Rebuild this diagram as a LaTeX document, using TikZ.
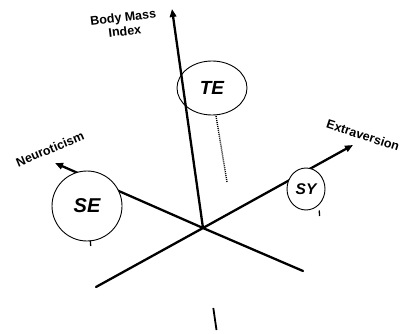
\documentclass[tikz,border=0pt]{standalone}
\usepackage{fontspec}
\setmainfont{Liberation Sans}
\usetikzlibrary{arrows.meta,shapes.geometric}
\begin{document}
\begin{tikzpicture}[x=1pt,y=-1pt,
  axisline/.style={line width=2.3pt,line cap=round},
  axisarrow/.style={axisline,-{Triangle[length=8pt,width=6.5pt]}},
  bubble/.style={draw,line width=0.9pt,ellipse,inner sep=0pt},
  axislabel/.style={font=\fontsize{12.5}{14}\selectfont\bfseries,inner sep=0pt,align=center},
  bubblelabel/.style={font=\bfseries\itshape},
  tickmark/.style={line width=1.3pt}]
\useasboundingbox (0,0) rectangle (407,334);
% axes
\coordinate (O) at (203,228);
\coordinate (bmi) at (172,9);
\coordinate (neu) at (55,163);
\coordinate (ext) at (353,145);
\coordinate (ll) at (96,287);
\coordinate (lr) at (303,271);
\draw[axisarrow] (O) -- (bmi);
\draw[axisarrow] (O) -- (neu);
\draw[axisarrow] (O) -- (ext);
\draw[axisline] (O) -- (ll);
\draw[axisline] (O) -- (lr);
% axis labels
\node[axislabel,rotate=7] (lbmi) at (124,24) {Body Mass\\Index};
\node[axislabel,rotate=23] (lneu) at (50,149) {Neuroticism};
\node[axislabel,rotate=-18] (lext) at (363,135) {Extraversion};
% bubbles
\node[bubble,minimum width=70pt,minimum height=54pt] (TE) at (212,88) {};
\node[bubblelabel,font=\fontsize{19}{20}\selectfont\bfseries\itshape] at (TE) {TE};
\node[bubble,fill=white,minimum width=70pt,minimum height=70pt] (SE) at (87,206) {};
\node[bubblelabel,font=\fontsize{20}{21}\selectfont\bfseries\itshape] at (SE) {SE};
\node[bubble,fill=white,minimum width=38pt,minimum height=42pt] (SY) at (306,189) {};
\node[bubblelabel,font=\fontsize{15.5}{17}\selectfont\bfseries\itshape] at (SY) {SY};
% dotted line
\coordinate (d1) at (216,116);
\coordinate (d2) at (227,182);
\draw[line width=1.4pt,dash pattern=on 1pt off 1pt] (d1) -- (d2);
% ticks
\coordinate (t1a) at (90.3,240.5);
\coordinate (t1b) at (90.7,246);
\draw[tickmark] (t1a) -- (t1b);
\coordinate (t2a) at (319.2,210.5);
\coordinate (t2b) at (319.6,216);
\draw[tickmark] (t2a) -- (t2b);
\coordinate (t3a) at (213.3,308);
\coordinate (t3b) at (216.5,330);
\draw[line width=1.8pt] (t3a) -- (t3b);
\end{tikzpicture}
\end{document}
